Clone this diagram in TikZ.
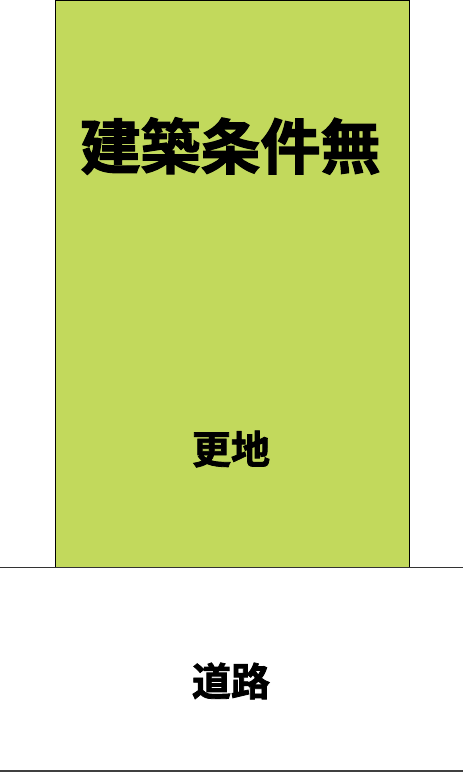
\documentclass[tikz,border=0pt]{standalone}
\usepackage{fontspec}
\newfontfamily\cjk{Noto Sans CJK JP}[BoldFont={Noto Sans CJK JP Bold},BoldFeatures={FakeBold=2}]
\definecolor{lotgreen}{RGB}{194,217,92}
\definecolor{roadline}{RGB}{64,64,64}
\begin{document}
\begin{tikzpicture}[x=1pt,y=-1pt,
  lbl/.style={inner sep=0pt,font=\cjk\bfseries}]
\useasboundingbox (0,0) rectangle (463,773);
\fill[white] (0,0) rectangle (463,773);
\node[draw=black,line width=1pt,fill=lotgreen,minimum width=354pt,minimum height=567pt,inner sep=0pt,anchor=north west] (lot) at (54.5,0) {};
\coordinate (roadL) at (0,567);
\coordinate (roadR) at (463,567);
\draw[line width=1pt,black!80] (roadL) -- (roadR);
\coordinate (botL) at (0,771);
\coordinate (botR) at (463,771);
\draw[line width=2pt,roadline] (botL) -- (botR);
\node[lbl,font=\cjk\bfseries\fontsize{60}{62}\selectfont] (title) at (230.5,146) {建築条件無};
\node[lbl,font=\cjk\bfseries\fontsize{39}{41}\selectfont] (sara) at (231,449) {更地};
\node[lbl,font=\cjk\bfseries\fontsize{39}{41}\selectfont] (road) at (231,681) {道路};
\end{tikzpicture}
\end{document}
